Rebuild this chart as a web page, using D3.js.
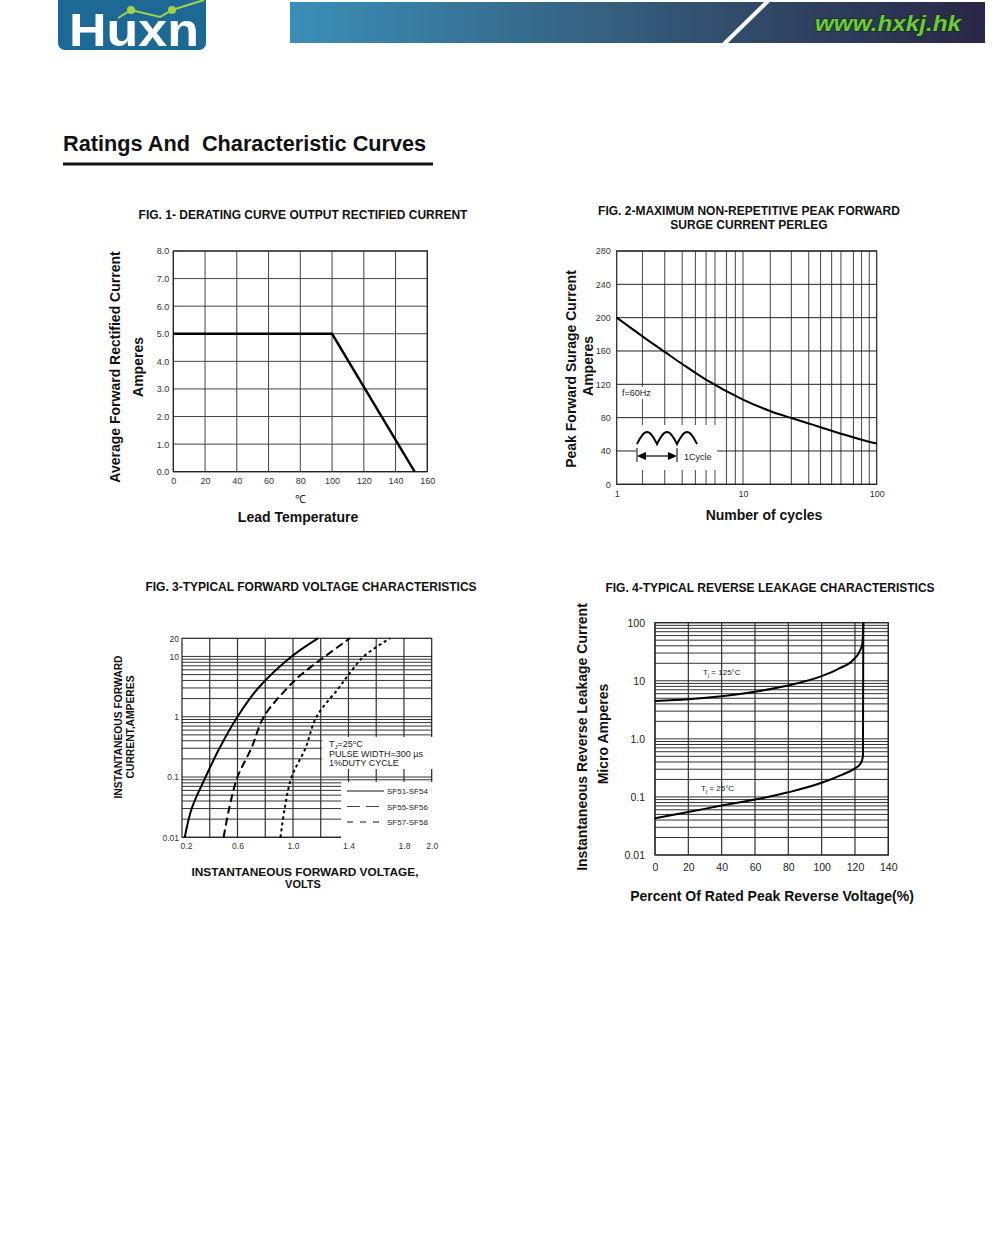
<!DOCTYPE html>
<html><head><meta charset="utf-8">
<script src="https://cdn.jsdelivr.net/npm/d3@7"></script>
<style>
body{margin:0;background:#fff}
svg{display:block}
text{font-family:"Liberation Sans",Arial,sans-serif;fill:#111}
</style>
</head><body>
<svg id="chart" width="1000" height="1250"></svg>
<script>
// ---------------- DATA ----------------
// Fig 1
const fig1Temperature = [0, 40, 100, 152];
const fig1Current = [5, 5, 5, 0];
const fig1XTicks = [0, 20, 40, 60, 80, 100, 120, 140, 160];
const fig1YTicks = [0, 1, 2, 3, 4, 5, 6, 7, 8];

// Fig 2
const fig2Cycles = [1, 1.62, 2.45, 3.26, 5.05, 9.9, 15.9, 23, 31, 38, 56, 77, 100];
const fig2Current = [200, 177, 158, 145, 126, 102, 88, 79.5, 73, 68.5, 60, 53.5, 49];
const fig2YTicks = [0, 40, 80, 120, 160, 200, 240, 280];
const fig2XLabels = [1, 10, 100];
const fig2GridCycles = [1.6, 2.4, 3.3, 4.2, 5.1, 6, 7.4, 8.7, 10, 16, 23, 31, 38, 46, 54, 67, 77, 88];

// Fig 3
const fig3XLabels = [0.2, 0.6, 1.0, 1.4, 1.8, 2.0];
const fig3GridVolts = [0.4, 0.6, 0.8, 1.0, 1.2, 1.4, 1.6, 1.8];
const fig3YLabels = [0.01, 0.1, 1, 10, 20];
const fig3SF51Volts = [0.22, 0.27, 0.37, 0.47, 0.6, 0.75, 0.99, 1.18];
const fig3SF51Amps = [0.01, 0.03, 0.1, 0.3, 1, 3, 10, 20];
const fig3SF55Volts = [0.5, 0.54, 0.6, 0.7, 0.79, 0.96, 1.06, 1.23, 1.41];
const fig3SF55Amps = [0.01, 0.03, 0.1, 0.3, 1, 3, 5, 10, 20];
const fig3SF57Volts = [0.91, 0.94, 0.99, 1.09, 1.17, 1.33, 1.39, 1.51, 1.70];
const fig3SF57Amps = [0.01, 0.03, 0.1, 0.3, 1, 3, 4.6, 10, 20];
const fig3LegendLabels = ["SF51-SF54", "SF55-SF56", "SF57-SF58"];

// Fig 4
const fig4XTicks = [0, 20, 40, 60, 80, 100, 120, 140];
const fig4YLabels = [0.01, 0.1, 1, 10, 100];
const fig4T125Percent = [0, 20, 40, 60, 80, 100, 110, 119, 123, 124.5, 125];
const fig4T125Current = [4.5, 4.8, 5.4, 6.5, 8.3, 12, 16, 23, 33, 45, 100];
const fig4T25Percent = [0, 20, 40, 60, 80, 100, 112, 120, 123.5, 124.8, 125];
const fig4T25Current = [0.043, 0.055, 0.071, 0.09, 0.12, 0.175, 0.24, 0.31, 0.38, 0.5, 100];

// ---------------- DRAW ----------------
const svg = d3.select("#chart");
const FONT = '"Liberation Sans",Arial,sans-serif';

// Header banner
const defs = svg.append("defs");
const grad = defs.append("linearGradient").attr("id", "banner").attr("x1", "0").attr("x2", "1");
grad.append("stop").attr("offset", "0").attr("stop-color", "#3a8fb8");
grad.append("stop").attr("offset", "0.45").attr("stop-color", "#35607f");
grad.append("stop").attr("offset", "1").attr("stop-color", "#2a2645");
svg.append("rect").attr("x", 290).attr("y", 2).attr("width", 695).attr("height", 41).attr("fill", "url(#banner)");
svg.append("line").attr("x1", 724).attr("y1", 44).attr("x2", 768).attr("y2", 1)
  .attr("stroke", "#fff").attr("stroke-width", 4);
svg.append("text").attr("x", 888).attr("y", 31).attr("text-anchor", "middle")
  .attr("font-size", 22).attr("font-weight", "bold").attr("font-style", "italic")
  .attr("font-family", '"DejaVu Sans",sans-serif')
  .style("fill", "#6ccb3a").attr("stroke", "#163016").attr("stroke-width", 1.3).attr("paint-order", "stroke")
  .attr("textLength", 146).attr("lengthAdjust", "spacingAndGlyphs")
  .text("www.hxkj.hk");

// Logo
svg.append("rect").attr("x", 58).attr("y", -8).attr("width", 148).attr("height", 58).attr("rx", 7)
  .attr("fill", "#1d6996");
svg.append("path").attr("d", "M118,18 L131,10 L160,17 L172,10 L204,0")
  .attr("fill", "none").attr("stroke", "#a6d24a").attr("stroke-width", 2);
svg.append("circle").attr("cx", 131).attr("cy", 10).attr("r", 4).attr("fill", "#a6d24a");
svg.append("circle").attr("cx", 172).attr("cy", 10).attr("r", 4).attr("fill", "#a6d24a");
svg.append("text").attr("x", 69).attr("y", 46).attr("font-size", 46).attr("font-weight", "bold")
  .style("fill", "#fff").attr("textLength", 130).attr("lengthAdjust", "spacingAndGlyphs").text("Huxn");

// Page title
svg.append("text").attr("x", 63).attr("y", 151).attr("font-size", 21.7).attr("font-weight", "bold")
  .attr("xml:space", "preserve").text("Ratings And  Characteristic Curves");
svg.append("line").attr("x1", 63).attr("x2", 433).attr("y1", 164).attr("y2", 164)
  .attr("stroke", "#111").attr("stroke-width", 3);

function title(x, y, lines, size) {
  lines.forEach((t, i) => svg.append("text").attr("x", x).attr("y", y + i * 14)
    .attr("text-anchor", "middle").attr("font-size", size).attr("font-weight", "bold").text(t));
}
function vtitle(x, y, t, size) {
  svg.append("text").attr("transform", `translate(${x},${y}) rotate(-90)`)
    .attr("text-anchor", "middle").attr("font-size", size).attr("font-weight", "bold").text(t);
}
function styleAxis(g, size, color) {
  g.select(".domain").remove();
  g.selectAll("text").attr("font-size", size).style("fill", color).attr("font-family", FONT);
}
const smooth = d3.curveCatmullRom.alpha(0.5);

// ---------- FIG 1 ----------
(function () {
  const L = 173.3, R = 427.3, T = 251, B = 471.7;
  const x = d3.scaleLinear().domain([0, 160]).range([L, R]);
  const y = d3.scaleLinear().domain([0, 8]).range([B, T]);
  const g = svg.append("g");
  g.selectAll(".vx").data(fig1XTicks).join("line")
    .attr("x1", d => x(d)).attr("x2", d => x(d)).attr("y1", T).attr("y2", B)
    .attr("stroke", "#444").attr("stroke-width", 1);
  g.selectAll(".hy").data(fig1YTicks).join("line")
    .attr("x1", L).attr("x2", R).attr("y1", d => y(d)).attr("y2", d => y(d))
    .attr("stroke", "#444").attr("stroke-width", 1);
  g.append("rect").attr("x", L).attr("y", T).attr("width", R - L).attr("height", B - T)
    .attr("fill", "none").attr("stroke", "#222").attr("stroke-width", 1.2);
  const pts = fig1Temperature.map((t, i) => [t, fig1Current[i]]);
  g.append("path").attr("d", d3.line().x(d => x(d[0])).y(d => y(d[1]))(pts))
    .attr("fill", "none").attr("stroke", "#000").attr("stroke-width", 2.4);
  const ax = svg.append("g").attr("transform", `translate(0,${B})`)
    .call(d3.axisBottom(x).tickValues(fig1XTicks).tickSize(0).tickPadding(6).tickFormat(d3.format("d")));
  styleAxis(ax, 9, "#333");
  const ay = svg.append("g").attr("transform", `translate(${L},0)`)
    .call(d3.axisLeft(y).tickValues(fig1YTicks).tickSize(0).tickPadding(4).tickFormat(d3.format(".1f")));
  styleAxis(ay, 9, "#333");
  title(303, 219, ["FIG. 1- DERATING CURVE OUTPUT RECTIFIED CURRENT"], 12);
  vtitle(120, 367, "Average Forward Rectified Current", 14);
  vtitle(143, 367, "Amperes", 14);
  svg.append("text").attr("x", 300).attr("y", 503).attr("text-anchor", "middle").attr("font-size", 11).text("℃");
  svg.append("text").attr("x", 298).attr("y", 522).attr("text-anchor", "middle").attr("font-size", 14)
    .attr("font-weight", "bold").text("Lead Temperature");
})();

// ---------- FIG 2 ----------
(function () {
  const L = 616.7, R = 876.7, T = 251, B = 484.3;
  const x = d3.scaleLog().domain([1, 10, 100]).range([L, 743, R]);
  const y = d3.scaleLinear().domain([0, 280]).range([B, T]);
  const g = svg.append("g");
  g.selectAll(".vx").data(fig2GridCycles).join("line")
    .attr("x1", d => x(d)).attr("x2", d => x(d)).attr("y1", T).attr("y2", B)
    .attr("stroke", "#555").attr("stroke-width", 1.1);
  g.selectAll(".hy").data(fig2YTicks).join("line")
    .attr("x1", L).attr("x2", R).attr("y1", d => y(d)).attr("y2", d => y(d))
    .attr("stroke", "#222").attr("stroke-width", 1);
  // white backgrounds for annotations
  g.append("rect").attr("x", 636).attr("y", 425).attr("width", 81).attr("height", 45).attr("fill", "#fff");
  g.append("rect").attr("x", 621).attr("y", 387).attr("width", 34).attr("height", 12).attr("fill", "#fff");
  g.append("rect").attr("x", L).attr("y", T).attr("width", R - L).attr("height", B - T)
    .attr("fill", "none").attr("stroke", "#222").attr("stroke-width", 1.2);
  const pts = fig2Cycles.map((c, i) => [c, fig2Current[i]]);
  g.append("path").attr("d", d3.line().curve(smooth).x(d => x(d[0])).y(d => y(d[1]))(pts))
    .attr("fill", "none").attr("stroke", "#000").attr("stroke-width", 2);
  // waveform icon
  const x0 = 637, w = 20, base = 444, h = 12;
  const wave = [];
  for (let k = 0; k < 3; k++) for (let s = 0; s <= 20; s++) {
    const t = s / 20; wave.push([x0 + w * (k + t), base - h * Math.sin(Math.PI * t)]);
  }
  g.append("path").attr("d", d3.line()(wave)).attr("fill", "none").attr("stroke", "#000").attr("stroke-width", 2);
  g.append("line").attr("x1", x0).attr("x2", x0).attr("y1", 448).attr("y2", 462).attr("stroke", "#000");
  g.append("line").attr("x1", x0 + 2 * w).attr("x2", x0 + 2 * w).attr("y1", 448).attr("y2", 462).attr("stroke", "#000");
  g.append("line").attr("x1", x0 + 6).attr("x2", x0 + 2 * w - 6).attr("y1", 456).attr("y2", 456).attr("stroke", "#000").attr("stroke-width", 1.2);
  g.append("path").attr("d", `M${x0},456 L${x0 + 9},452 L${x0 + 9},460 Z`).attr("fill", "#000");
  g.append("path").attr("d", `M${x0 + 2 * w},456 L${x0 + 2 * w - 9},452 L${x0 + 2 * w - 9},460 Z`).attr("fill", "#000");
  g.append("text").attr("x", 684).attr("y", 460).attr("font-size", 9).style("fill", "#222").text("1Cycle");
  g.append("text").attr("x", 622).attr("y", 396).attr("font-size", 9).style("fill", "#222").text("f=60Hz");
  const ax = svg.append("g").attr("transform", `translate(0,${B})`)
    .call(d3.axisBottom(x).tickValues(fig2XLabels).tickSize(0).tickPadding(6).tickFormat(d3.format("d")));
  styleAxis(ax, 9, "#333");
  const ay = svg.append("g").attr("transform", `translate(${L},0)`)
    .call(d3.axisLeft(y).tickValues(fig2YTicks).tickSize(0).tickPadding(6).tickFormat(d3.format("d")));
  styleAxis(ay, 9, "#333");
  title(749, 215, ["FIG. 2-MAXIMUM NON-REPETITIVE PEAK FORWARD", "SURGE CURRENT PERLEG"], 12);
  vtitle(576, 369, "Peak Forward Surage Current", 14);
  vtitle(593, 366, "Amperes", 14);
  svg.append("text").attr("x", 764).attr("y", 520).attr("text-anchor", "middle").attr("font-size", 14)
    .attr("font-weight", "bold").text("Number of cycles");
})();

// ---------- FIG 3 ----------
(function () {
  const L = 182, R = 431.7, T = 638.3, B = 837.3;
  const x = d3.scaleLinear().domain([0.2, 2.0]).range([L, R]);
  const y = d3.scaleLog().domain([0.01, 20]).range([B, T]);
  const g = svg.append("g");
  const hLines = [];
  [0.01, 0.1, 1].forEach(dec => { for (let k = 1; k <= 9; k++) hLines.push(dec * k); });
  hLines.push(10);
  g.selectAll(".vx").data(fig3GridVolts).join("line")
    .attr("x1", d => x(d)).attr("x2", d => x(d)).attr("y1", T).attr("y2", B)
    .attr("stroke", "#333").attr("stroke-width", 1.2);
  g.selectAll(".hy").data(hLines).join("line")
    .attr("x1", L).attr("x2", R).attr("y1", d => y(d)).attr("y2", d => y(d))
    .attr("stroke", "#333").attr("stroke-width", 1);
  g.append("rect").attr("x", L).attr("y", T).attr("width", R - L).attr("height", B - T)
    .attr("fill", "none").attr("stroke", "#222").attr("stroke-width", 1.2);
  // white boxes for annotation and legend
  g.append("rect").attr("x", 322).attr("y", 737).attr("width", 111).attr("height", 32).attr("fill", "#fff");
  g.append("rect").attr("x", 341).attr("y", 782).attr("width", 93).attr("height", 57).attr("fill", "#fff");
  const line = d3.line().curve(smooth).x(d => x(d[0])).y(d => y(d[1]));
  const series = [
    [fig3SF51Volts, fig3SF51Amps, null],
    [fig3SF55Volts, fig3SF55Amps, "8,4"],
    [fig3SF57Volts, fig3SF57Amps, "3,3"]
  ];
  series.forEach(([vs, is, dash]) => {
    g.append("path").attr("d", line(vs.map((v, i) => [v, is[i]])))
      .attr("fill", "none").attr("stroke", "#000").attr("stroke-width", 2)
      .attr("stroke-dasharray", dash);
  });
  // legend
  const legDash = [null, "13,6", "6,7"];
  fig3LegendLabels.forEach((lab, i) => {
    const ly = 791 + i * 15.5;
    g.append("line").attr("x1", 347).attr("x2", 384).attr("y1", ly).attr("y2", ly)
      .attr("stroke", i === 1 ? "#444" : "#111").attr("stroke-width", 1).attr("stroke-dasharray", legDash[i]);
    g.append("text").attr("x", 387).attr("y", ly + 3).attr("font-size", 8).style("fill", "#222").text(lab);
  });
  // annotation
  const t1 = g.append("text").attr("x", 329).attr("y", 747).attr("font-size", 9).style("fill", "#222");
  t1.append("tspan").text("T");
  t1.append("tspan").attr("font-size", 6).attr("dy", 2).text("J");
  t1.append("tspan").attr("dy", -2).text("=25");
  t1.append("tspan").attr("font-size", 6).attr("dy", -3).text("o");
  t1.append("tspan").attr("dy", 3).text("C");
  g.append("text").attr("x", 329).attr("y", 757).attr("font-size", 9).style("fill", "#222").text("PULSE WIDTH=300 µs");
  g.append("text").attr("x", 329).attr("y", 766).attr("font-size", 9).style("fill", "#222").text("1%DUTY CYCLE");
  const ax = svg.append("g").attr("transform", `translate(0,${B})`)
    .call(d3.axisBottom(x).tickValues(fig3XLabels).tickSize(0).tickPadding(6).tickFormat(d3.format(".1f")));
  styleAxis(ax, 8.5, "#333");
  ax.selectAll("text").filter(d => d === 0.2).attr("dx", 4);
  const ay = svg.append("g").attr("transform", `translate(${L},0)`)
    .call(d3.axisLeft(y).tickValues(fig3YLabels).tickSize(0).tickPadding(3).tickFormat(d => String(d)));
  styleAxis(ay, 8.5, "#333");
  title(311, 591, ["FIG. 3-TYPICAL FORWARD VOLTAGE CHARACTERISTICS"], 12);
  vtitle(122, 727, "INSTANTANEOUS FORWARD", 10.3);
  vtitle(133.5, 727, "CURRENT,AMPERES", 10.3);
  svg.append("text").attr("x", 305).attr("y", 876).attr("text-anchor", "middle").attr("font-size", 11)
    .attr("font-weight", "bold").attr("textLength", 227).attr("lengthAdjust", "spacingAndGlyphs")
    .text("INSTANTANEOUS FORWARD VOLTAGE,");
  svg.append("text").attr("x", 303).attr("y", 888).attr("text-anchor", "middle").attr("font-size", 11)
    .attr("font-weight", "bold").text("VOLTS");
})();

// ---------- FIG 4 ----------
(function () {
  const L = 655, R = 888.3, T = 622.7, B = 855;
  const x = d3.scaleLinear().domain([0, 140]).range([L, R]);
  const y = d3.scaleLog().domain([0.01, 100]).range([B, T]);
  const g = svg.append("g");
  const hLines = [];
  [0.01, 0.1, 1, 10].forEach(dec => { for (let k = 1; k <= 9; k++) hLines.push(dec * k); });
  hLines.push(100);
  g.selectAll(".vx").data(fig4XTicks).join("line")
    .attr("x1", d => x(d)).attr("x2", d => x(d)).attr("y1", T).attr("y2", B)
    .attr("stroke", "#333").attr("stroke-width", 1.2);
  g.selectAll(".hy").data(hLines).join("line")
    .attr("x1", L).attr("x2", R).attr("y1", d => y(d)).attr("y2", d => y(d))
    .attr("stroke", "#333").attr("stroke-width", 1);
  g.append("rect").attr("x", L).attr("y", T).attr("width", R - L).attr("height", B - T)
    .attr("fill", "none").attr("stroke", "#222").attr("stroke-width", 1.2);
  const line = d3.line().curve(d3.curveMonotoneX).x(d => x(d[0])).y(d => y(d[1]));
  g.append("path").attr("d", line(fig4T125Percent.map((p, i) => [p, fig4T125Current[i]])))
    .attr("fill", "none").attr("stroke", "#000").attr("stroke-width", 2);
  g.append("path").attr("d", line(fig4T25Percent.map((p, i) => [p, fig4T25Current[i]])))
    .attr("fill", "none").attr("stroke", "#000").attr("stroke-width", 2);
  function tlabel(xx, yy, temp) {
    const t = g.append("text").attr("x", xx).attr("y", yy).attr("font-size", 8).style("fill", "#222");
    t.append("tspan").text("T");
    t.append("tspan").attr("font-size", 5.5).attr("dy", 2).text("j");
    t.append("tspan").attr("dy", -2).text(" = " + temp + "°C");
  }
  tlabel(703, 675, 125);
  tlabel(701, 791, 25);
  const ax = svg.append("g").attr("transform", `translate(0,${B})`)
    .call(d3.axisBottom(x).tickValues(fig4XTicks).tickSize(0).tickPadding(9).tickFormat(d3.format("d")));
  styleAxis(ax, 10.5, "#222");
  const ay = svg.append("g").attr("transform", `translate(${L},0)`)
    .call(d3.axisLeft(y).tickValues(fig4YLabels).tickSize(0).tickPadding(10)
      .tickFormat(d => d === 1 ? "1.0" : String(d)));
  styleAxis(ay, 10.5, "#222");
  title(770, 592, ["FIG. 4-TYPICAL REVERSE LEAKAGE CHARACTERISTICS"], 12);
  vtitle(587, 737, "Instantaneous Reverse Leakage Current", 14);
  vtitle(608, 734, "Micro Amperes", 14);
  svg.append("text").attr("x", 772).attr("y", 901).attr("text-anchor", "middle").attr("font-size", 14)
    .attr("font-weight", "bold").text("Percent Of Rated Peak Reverse Voltage(%)");
})();
</script>
</body></html>
